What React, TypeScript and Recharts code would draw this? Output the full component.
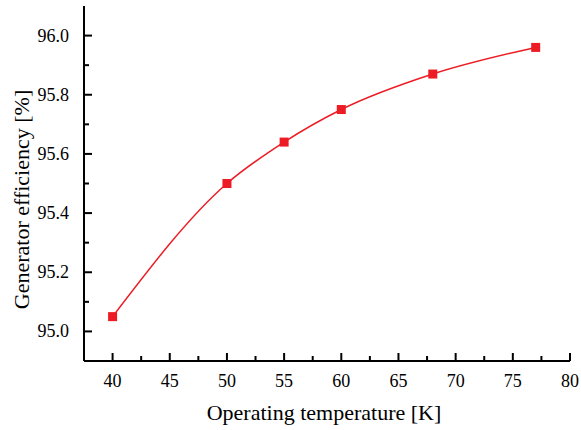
import React from 'react';
import { LineChart, Line, XAxis, YAxis, Label } from 'recharts';

const temperatures = [40, 50, 55, 60, 68, 77];
const efficiencies = [95.05, 95.5, 95.64, 95.75, 95.87, 95.96];

const xTicks = [40, 42.5, 45, 47.5, 50, 52.5, 55, 57.5, 60, 62.5, 65, 67.5, 70, 72.5, 75, 77.5, 80];
const yTicks = [95.0, 95.1, 95.2, 95.3, 95.4, 95.5, 95.6, 95.7, 95.8, 95.9, 96.0];
const xDomain: [number, number] = [37.5, 80];
const yDomain: [number, number] = [94.9, 96.1];

const data = temperatures.map((t, i) => ({ t, eff: efficiencies[i] }));

const FONT = 'Times New Roman, Liberation Serif, Tinos, DejaVu Serif, serif';
const RED = '#ed1c24';
const MAJOR = 8;
const MINOR = 5;

const isMajorX = (v: number) => Math.abs(v % 5) < 1e-6;
const isMajorY = (v: number) => Math.abs(Math.round(v * 5) - v * 5) < 1e-6;

const makeTick = (side: 'bottom' | 'top' | 'left' | 'right', withLabel: boolean) => (props: any) => {
  const { x, y, payload } = props;
  const v = payload.value as number;
  const major = side === 'bottom' || side === 'top' ? isMajorX(v) : isMajorY(v);
  const len = major ? MAJOR : MINOR;
  let line;
  if (side === 'bottom') line = <line x1={x} y1={y} x2={x} y2={y - len} stroke="#000" strokeWidth={2} />;
  else if (side === 'top') line = <line x1={x} y1={y} x2={x} y2={y + len} stroke="#000" strokeWidth={2} />;
  else if (side === 'left') line = <line x1={x} y1={y} x2={x + len} y2={y} stroke="#000" strokeWidth={2} />;
  else line = <line x1={x} y1={y} x2={x - len} y2={y} stroke="#000" strokeWidth={2} />;
  let label = null;
  if (withLabel && major) {
    if (side === 'bottom') {
      label = (
        <text x={x} y={y + 26} textAnchor="middle" fontFamily={FONT} fontSize={18} fill="#000">
          {String(v)}
        </text>
      );
    } else if (side === 'left') {
      label = (
        <text x={x - 15} y={y + 6} textAnchor="end" fontFamily={FONT} fontSize={18} fill="#000">
          {v.toFixed(1)}
        </text>
      );
    }
  }
  return (
    <g fontFamily={FONT}>
      {line}
      {label}
    </g>
  );
};

const Square = (props: any) => {
  const { cx, cy } = props;
  if (cx == null || cy == null) return <g />;
  return <rect x={cx - 4.5} y={cy - 4.5} width={9} height={9} fill={RED} />;
};

export default function App() {
  return (
    <div style={{ position: 'absolute', left: 0, top: 0, background: '#fff' }}>
      <LineChart width={581} height={430} data={data} margin={{ top: 6, right: 11, bottom: 0, left: 0 }}>
        <XAxis
          xAxisId="bottom"
          dataKey="t"
          type="number"
          domain={xDomain}
          ticks={xTicks}
          interval={0}
          allowDataOverflow
          orientation="bottom"
          height={69}
          tickSize={0}
          tickMargin={0}
          tickLine={false}
          axisLine={{ stroke: '#000', strokeWidth: 2 }}
          tick={makeTick('bottom', true)}
        >
          <Label
            content={(p: any) => {
              const vb = p.viewBox || { x: 84, y: 361, width: 486, height: 69 };
              return (
                <text
                  x={vb.x + vb.width / 2 - 3}
                  y={vb.y + 59}
                  textAnchor="middle"
                  fontFamily={FONT}
                  fontSize={22}
                  fill="#000"
                >
                  Operating temperature [K]
                </text>
              );
            }}
          />
        </XAxis>
        <XAxis
          xAxisId="top"
          type="number"
          domain={xDomain}
          ticks={xTicks}
          interval={0}
          allowDataOverflow
          orientation="top"
          height={0}
          tickSize={0}
          tickMargin={0}
          tickLine={false}
          axisLine={{ stroke: '#000', strokeWidth: 2 }}
          tick={makeTick('top', false)}
        />
        <YAxis
          yAxisId="left"
          type="number"
          domain={yDomain}
          ticks={yTicks}
          interval={0}
          allowDataOverflow
          orientation="left"
          width={84}
          tickSize={0}
          tickMargin={0}
          tickLine={false}
          axisLine={{ stroke: '#000', strokeWidth: 2 }}
          tick={makeTick('left', true)}
        >
          <Label
            content={(p: any) => {
              const vb = p.viewBox || { x: 0, y: 6, width: 84, height: 355 };
              const cx = vb.x + 21;
              const cy = vb.y + vb.height / 2 + 16;
              return (
                <text
                  x={cx}
                  y={cy}
                  textAnchor="middle"
                  transform={`rotate(-90, ${cx}, ${cy})`}
                  fontFamily={FONT}
                  fontSize={22}
                  fill="#000"
                  dominantBaseline="central"
                >
                  Generator efficiency [%]
                </text>
              );
            }}
          />
        </YAxis>
        <YAxis
          yAxisId="right"
          type="number"
          domain={yDomain}
          ticks={yTicks}
          interval={0}
          allowDataOverflow
          orientation="right"
          width={0}
          tickSize={0}
          tickMargin={0}
          tickLine={false}
          axisLine={{ stroke: '#000', strokeWidth: 2 }}
          tick={makeTick('right', false)}
        />
        <Line
          xAxisId="bottom"
          yAxisId="left"
          dataKey="eff"
          type="monotone"
          stroke={RED}
          strokeWidth={1.5}
          dot={<Square />}
          activeDot={false}
          isAnimationActive={false}
        />
      </LineChart>
    </div>
  );
}
